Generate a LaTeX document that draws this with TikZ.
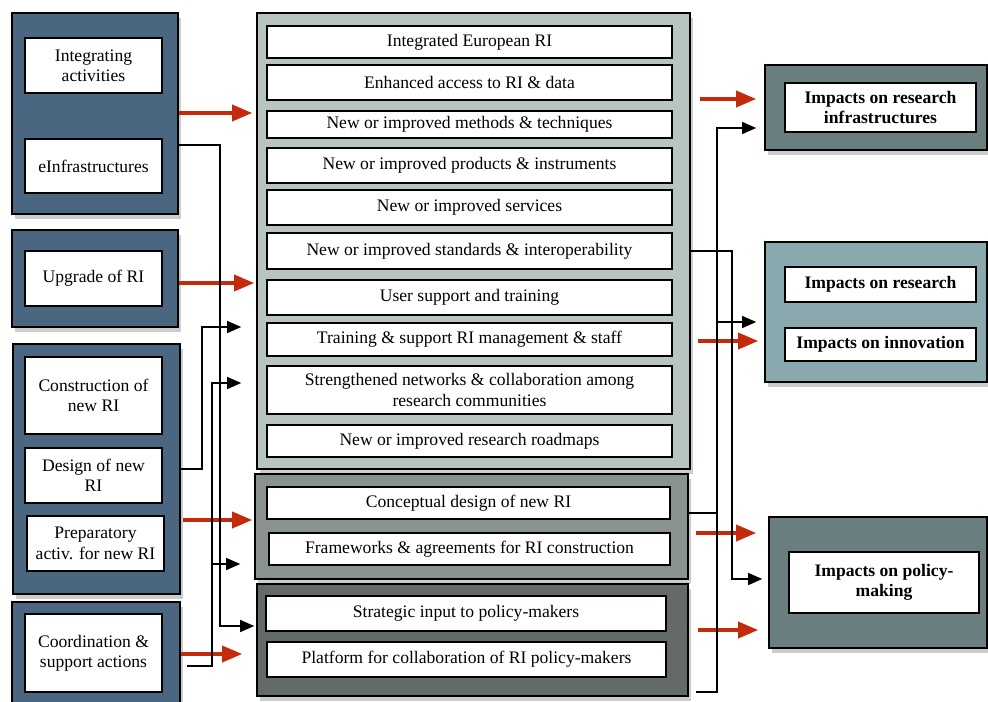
\documentclass[tikz,border=0pt]{standalone}
\usepackage{fontspec}
\setmainfont{Liberation Serif}
\usetikzlibrary{arrows.meta,shadows}
\definecolor{leftBlue}{HTML}{4A6680}
\definecolor{outputLight}{HTML}{B8C4C0}
\definecolor{outputMid}{HTML}{8A928F}
\definecolor{outputDark}{HTML}{646A67}
\definecolor{impactSlate}{HTML}{6A7E80}
\definecolor{impactTeal}{HTML}{8AA9AF}
\definecolor{arrowRed}{HTML}{C42A0C}
\newcommand{\itemFont}{\fontsize{8.8}{10.2}\selectfont}
%% A box given by its corners x1, y1, x2, y2 (in pixels).
\newcommand{\cornerBox}[7]{%%
  \node[#2, minimum width={(#5-#3)*0.5pt}, minimum height={(#6-#4)*0.5pt}]
    at ({(#3+#5)/2},{(#4+#6)/2}) (#1) {#7};
}
\newcommand{\groupBox}[6]{%%
  \cornerBox{#1}{groupStyle,fill=#2}{#3}{#4}{#5}{#6}{}
}
\newcommand{\itemBox}[6]{%%
  \cornerBox{#1}{itemStyle}{#2}{#3}{#4}{#5}{#6}
}
\newcommand{\impactBox}[6]{%%
  \cornerBox{#1}{boldItemStyle}{#2}{#3}{#4}{#5}{#6}
}

\begin{document}
\begin{tikzpicture}[%%
  x=0.5pt,y=-0.5pt,%%
  groupStyle/.style={draw=black,line width=0.8pt,inner sep=0pt,%%
    drop shadow={opacity=0.4,shadow xshift=1.5pt,shadow yshift=-2.5pt}},%%
  itemStyle/.style={draw=black,line width=0.7pt,fill=white,inner sep=0pt,%%
    align=center,font=\itemFont},%%
  boldItemStyle/.style={itemStyle,font=\itemFont\bfseries},%%
  redStyle/.style={-{Triangle[length=10pt,width=8pt]},line width=1.7pt,draw=arrowRed},%%
  lineStyle/.style={-{Triangle[length=7pt,width=6pt]},line width=0.6pt},%%
  plainStyle/.style={-,line width=0.6pt}
]
\useasboundingbox (0,0) rectangle (988,701);
%%
%% The programme instruments on the left.
\groupBox{grpA}{leftBlue}{12}{13}{178}{214}
\groupBox{grpB}{leftBlue}{12}{230}{178}{327}
\groupBox{grpC}{leftBlue}{13}{344}{180}{594}
\groupBox{grpD}{leftBlue}{12}{602}{180}{710}
\itemBox{integrating}{25}{38}{162}{93}{Integrating\\activities}
\itemBox{einfra}{25}{139}{162}{193}{eInfrastructures}
\itemBox{upgrade}{25}{251}{162}{306}{Upgrade of RI}
\itemBox{construction}{25}{357}{162}{434}{Construction of\\new RI}
\itemBox{design}{25}{448}{162}{503}{Design of new\\RI}
\itemBox{preparatory}{27}{516}{164}{571}{Preparatory\\activ. for new RI}
\itemBox{coordination}{25}{614}{162}{692}{Coordination \&\\support actions}
%%
%% The outputs in the middle.
\groupBox{m1}{outputLight}{257}{13}{690}{469}
\groupBox{m2}{outputMid}{255}{474}{688}{579}
\groupBox{m3}{outputDark}{257}{584}{688}{696}
\foreach \name/\ya/\yb/\txt in {%%
  iEuro/26/58/Integrated European RI,
  access/65/100/Enhanced access to RI \& data,
  methods/111/138/New or improved methods \& techniques,
  products/148/183/New or improved products \& instruments,
  services/190/225/New or improved services,
  standards/233/269/New or improved standards \& interoperability,
  userSup/280/315/User support and training,
  staff/323/356/Training \& support RI management \& staff,
  networks/366/414/Strengthened networks \& collaboration among\\research communities,
  roadmaps/425/457/New or improved research roadmaps}{
  \itemBox{\name}{267}{\ya}{672}{\yb}{\txt}
};
\itemBox{concept}{267}{487}{670}{519}{Conceptual design of new RI}
\itemBox{frameworks}{269}{533}{670}{565}{Frameworks \& agreements for RI construction}
\itemBox{strategic}{266}{596}{666}{631}{Strategic input to policy-makers}
\itemBox{platform}{267}{642}{666}{677}{Platform for collaboration of RI policy-makers}
%%
%% The impacts on the right.
\groupBox{r1}{impactSlate}{765}{65}{987}{150}
\groupBox{r2}{impactTeal}{765}{242}{987}{382}
\groupBox{r3}{impactSlate}{769}{517}{987}{648}
\impactBox{impInfra}{785}{83}{976}{132}{Impacts on research\\infrastructures}
\impactBox{impResearch}{785}{267}{976}{302}{Impacts on research}
\impactBox{impInnov}{785}{328}{976}{361}{Impacts on innovation}
\impactBox{impPolicy}{789}{552}{979}{613}{Impacts on policy-\\making}
%%
%% Main flows (red).
\draw[redStyle,shorten >=2pt] (grpA.east |- 0,113) -- (m1.west |- 0,113);
\draw[redStyle,shorten >=1pt] (grpB.east |- 0,283) -- (m1.west |- 0,283);
\draw[redStyle,shorten <=1pt,shorten >=1pt] (grpC.east |- 0,520) -- (m2.west |- 0,520);
\draw[redStyle,shorten >=7pt] (grpD.east |- 0,654) -- (m3.west |- 0,654);
\draw[redStyle,shorten <=4.5pt,shorten >=4pt] (m1.east |- 0,99) -- (r1.west |- 0,99);
\draw[redStyle,shorten <=3.5pt,shorten >=3pt] (m1.east |- 0,341) -- (r2.west |- 0,341);
\draw[redStyle,shorten <=3.5pt,shorten >=6pt] (m2.east |- 0,533) -- (r3.west |- 0,533);
\draw[redStyle,shorten <=4.5pt,shorten >=5pt] (m3.east |- 0,630) -- (r3.west |- 0,630);
%%
%% Secondary flows (black).
\draw[lineStyle,shorten >=1pt] (grpA.east |- 0,145) -| (220,626) -- (m3.west |- 0,626);
\draw[lineStyle,shorten >=7.5pt] (grpC.east |- 0,469) -| (202,327) -- (m1.west |- 0,327);
\draw[lineStyle,shorten <=3pt,shorten >=7.5pt] (grpD.east |- 0,666) -| (212,383) -- (m1.west |- 0,383);
\draw[lineStyle,shorten >=7pt] (212,564) -- (m2.west |- 0,564);
\draw[lineStyle,shorten >=3pt] (m1.east |- 0,251) -| (732,579) -- (r3.west |- 0,579);
\draw[plainStyle] (m2.east |- 0,513) -- (717,513);
\draw[lineStyle,shorten <=3.5pt,shorten >=4pt] (m3.east |- 0,692) -| (717,128) -- (r1.west |- 0,128);
\draw[lineStyle,shorten >=4pt] (717,322) -- (r2.west |- 0,322);
\end{tikzpicture}
\end{document}
